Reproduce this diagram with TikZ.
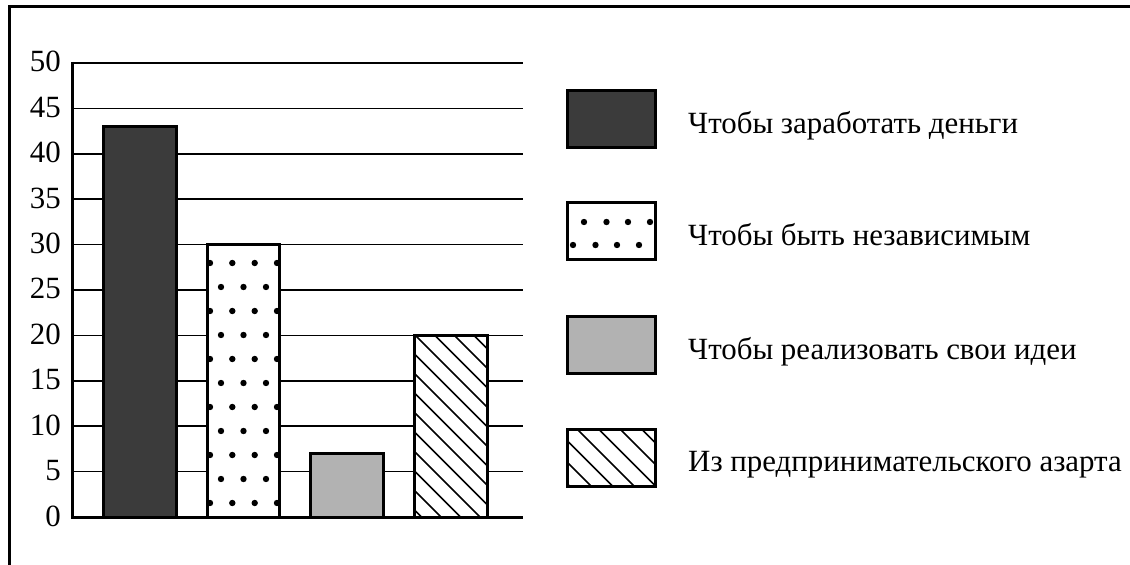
\documentclass[tikz,border=0pt]{standalone}
\usepackage{fontspec}
\setmainfont{Liberation Serif}
\begin{document}
\begin{tikzpicture}[x=1bp,y=-1bp,
  frame/.style={line width=3bp},
  axis/.style={line width=3bp},
  grid/.style={line width=1.5bp},
  bar/.style={draw,line width=3bp},
  hatch/.style={line width=1.6bp},
  dot/.style={fill=black},
  lbl/.style={font=\fontsize{31}{32}\selectfont,inner sep=0pt},
  tick/.style={lbl,anchor=base east},
  leg/.style={lbl,anchor=base west}]
\useasboundingbox (0,0) rectangle (1130,565);
% frame
\draw[frame] (1130,7) -- (9,7) -- (9,565);
% grid lines and labels
\foreach \v in {5,10,...,50}{
  \draw[grid] (72,{517-\v*9.08}) -- (523,{517-\v*9.08});
}
\foreach \v in {0,5,...,50}{
  \node[tick] (t\v) at (61,{517-\v*9.08+9}) {\v};
}
% bars
\draw[bar,fill=black!77] (103,517) rectangle (176,{517-43*9.08});
\draw[bar,fill=white] (207,517) rectangle (279,{517-30*9.08});
\draw[bar,fill=black!30] (310,517) rectangle (383,{517-7*9.08});
\draw[bar,fill=white] (414,517) rectangle (487,{517-20*9.08});
% dots bar 2
\foreach \k in {0,2,...,10}{
  \foreach \x in {210,232.3,254.7,277}{\fill[dot] (\x,{263+24*\k}) circle (3.2bp);}
}
\foreach \k in {1,3,...,9}{
  \foreach \x in {221,243.5,266}{\fill[dot] (\x,{263+24*\k}) circle (3.2bp);}
}
% hatch bar 4
\begin{scope}
  \clip (414,335) rectangle (487,517);
  \foreach \i in {-2,...,14}{
    \draw[hatch] ({434.5-19.5*\i},335) -- ++(200,200);
  }
\end{scope}
\draw[bar] (414,517) rectangle (487,335);
% axes
\draw[axis] (72,62) -- (72,517) -- (523,517);
% legend
\draw[bar,fill=black!77] (567,91) rectangle (655,148);
\draw[bar,fill=white] (567,203) rectangle (655,260);
\foreach \x in {584,606.5,628,650}{\fill[dot] (\x,222) circle (3.2bp);}
\foreach \x in {573,595.5,617,639}{\fill[dot] (\x,245) circle (3.2bp);}
\draw[bar,fill=black!30] (567,316) rectangle (655,373);
\begin{scope}
  \clip (567,429) rectangle (655,486);
  \foreach \i in {-3,...,5}{
    \draw[hatch] ({577+21.5*\i},429) -- ++(80,80);
  }
\end{scope}
\draw[bar] (567,429) rectangle (655,486);
\node[leg] (l1) at (688,134) {Чтобы заработать деньги};
\node[leg] (l2) at (688,246) {Чтобы быть независимым};
\node[leg] (l3) at (688,359) {Чтобы реализовать свои идеи};
\node[leg] (l4) at (688,471) {Из предпринимательского азарта};
\end{tikzpicture}
\end{document}
